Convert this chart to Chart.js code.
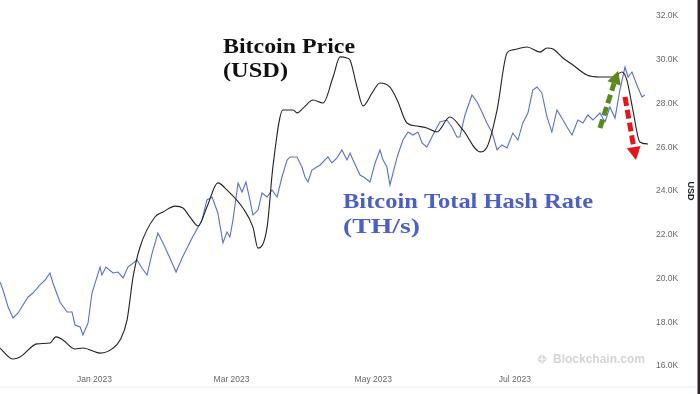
<!DOCTYPE html>
<html>
<head>
<meta charset="utf-8">
<script src="https://cdn.jsdelivr.net/npm/chart.js@4.4.0/dist/chart.umd.min.js"></script>
<style>
  html, body { margin: 0; padding: 0; background: #ffffff; }
  #wrap { width: 700px; height: 394px; position: relative; }
</style>
</head>
<body>
<div id="wrap"><canvas id="c" width="700" height="394"></canvas></div>
<script>
// ---- Data (x = days since 1 Jan 2023) ----
const tickDays   = [0, 59, 120, 181];
const tickLabels = ["Jan 2023", "Mar 2023", "May 2023", "Jul 2023"];

const priceDays = [-40.7,-35.1,-32.1,-24.8,-19.2,-16.6,-13.6,-8.4,-5.0,2.4,
  8.0,11.0,14.0,16.6,19.6,26.0,29.5,34.7,38.1,41.1,
  44.6,48.4,53.1,57.0,63.9,68.2,70.4,74.3,76.8,81.1,
  85.5,87.2,89.8,94.1,98.4,102.7,105.7,108.7,110.0,113.0,
  115.6,119.5,122.9,127.2,130.3,134.5,138.8,143.1,147.4,153.0,
  158.6,166.0,169.0,173.3,177.6,180.1,186.2,191.8,194.8,197.4,
  201.7,206.0,212.0,217.6,223.2,227.1,229.2,231.8,234.8,238.3];
const priceUSD = [16820,16320,16410,17010,17050,17330,17190,16780,16820,16590,
  16820,17190,18100,20070,21440,22810,23040,23310,23220,22810,
  22400,23270,24370,24050,23220,22350,21390,22350,25100,27700,
  27700,27570,27790,28160,28020,29210,30130,30080,29990,28750,
  27890,28480,28940,28750,28160,27110,26970,26880,26700,27380,
  26790,25790,26010,27700,30310,30450,30580,30350,30540,30490,
  30080,29760,29300,29210,29210,29440,29070,27700,26240,26150];

const hashDays = [-40.7,-39.4,-37.2,-35.1,-32.9,-30.8,-28.6,-26.5,-23.5,-21.3,
  -19.2,-17.9,-14.9,-11.8,-9.7,-8.4,-6.2,-5.0,-2.8,-1.1,
  2.4,3.2,4.9,8.0,10.1,12.3,14.4,18.3,20.4,22.6,
  24.8,27.3,30.3,33.4,35.1,37.7,42.0,46.3,48.4,50.6,
  53.1,55.3,57.0,58.3,59.6,61.8,63.5,65.2,66.9,68.2,
  70.4,72.1,74.3,76.4,78.6,80.7,82.9,84.2,87.2,89.3,
  90.6,91.9,93.6,97.1,100.5,102.2,104.4,106.5,108.7,110.0,
  111.3,114.3,116.5,118.6,120.8,122.9,124.2,125.9,127.2,130.3,
  132.8,135.0,137.1,139.3,141.0,143.1,145.7,148.7,151.7,153.9,
  156.0,157.3,159.5,162.5,164.7,166.8,168.9,171.1,173.3,175.4,
  177.6,180.1,182.3,184.4,186.6,188.7,190.5,192.6,194.8,196.9,
  199.1,201.2,203.4,205.6,208.1,210.3,212.4,214.6,217.6,219.8,
  221.9,224.1,226.2,228.4,229.7,231.4,233.5,235.7,237.0];
// hash rate, EH/s (millions of TH/s)
const hashRate = [236.8,229.5,213.9,203.9,208.5,215.8,223.1,226.7,234.1,238.6,
  245.0,235.9,218.5,209.4,209.4,197.5,195.7,188.3,199.3,226.7,
  250.5,243.2,250.5,245.0,245.9,240.5,250.5,256.9,249.6,243.2,
  263.3,281.6,268.8,254.2,245.9,258.7,277.0,293.5,311.8,314.5,
  299.9,272.5,282.5,277.9,293.5,327.3,319.1,328.2,311.8,298.1,
  302.6,318.2,314.5,320.9,314.5,332.8,348.3,351.1,351.1,341.9,
  332.8,328.2,339.2,343.8,351.1,345.6,350.2,357.5,348.3,354.7,
  348.3,334.6,331.9,328.2,345.6,357.5,348.3,341.9,325.5,351.1,
  366.6,373.9,371.2,373.9,363.9,360.2,371.2,383.1,384.9,378.5,
  369.4,369.4,389.5,407.8,401.4,392.2,382.2,373.9,357.5,362.1,
  359.3,373.0,366.6,382.2,391.3,412.3,415.1,409.6,387.7,373.9,
  394.1,386.7,378.5,371.2,384.9,382.2,389.5,384.9,391.3,383.1,
  396.8,386.7,412.3,433.4,424.2,428.8,416.9,406.0,407.8];

// annotation arrows anchored in (day, USD)
const arrowUp   = { from: [217.6, 26880], to: [225.4, 29490] };
const arrowDown = { from: [228.4, 28300], to: [233.1, 25420] };

// ---- helpers ----
function drawArrow(ctx, x0, y0, x1, y1, color) {
  const dx = x1 - x0, dy = y1 - y0, len = Math.hypot(dx, dy);
  const ux = dx / len, uy = dy / len;
  const headLen = 13, headHalf = 7;
  const bx = x1 - ux * headLen, by = y1 - uy * headLen;
  ctx.save();
  ctx.strokeStyle = color; ctx.fillStyle = color;
  ctx.lineWidth = 5; ctx.lineCap = 'butt';
  ctx.setLineDash([9, 4]);
  ctx.beginPath(); ctx.moveTo(x0, y0); ctx.lineTo(bx, by); ctx.stroke();
  ctx.setLineDash([]);
  ctx.beginPath();
  ctx.moveTo(x1, y1);
  ctx.lineTo(bx - uy * headHalf, by + ux * headHalf);
  ctx.lineTo(bx + uy * headHalf, by - ux * headHalf);
  ctx.closePath(); ctx.fill();
  ctx.restore();
}
function drawStretched(ctx, str, x, baseline, font, color, targetW) {
  ctx.save();
  ctx.font = font;
  const w = ctx.measureText(str).width;
  ctx.translate(x, baseline);
  ctx.scale(targetW / w, 1);
  ctx.fillStyle = color;
  ctx.textBaseline = 'alphabetic';
  ctx.textAlign = 'left';
  ctx.fillText(str, 0, 0);
  ctx.restore();
}

const annotPlugin = {
  id: 'annot',
  beforeDatasetsDraw(chart) {
    const ctx = chart.ctx;
    // watermark
    ctx.save();
    ctx.fillStyle = '#d4d4d4';
    const cx = 542, cy = 359, s = 4.6;
    ctx.beginPath();
    ctx.moveTo(cx, cy - s - 0.6); ctx.lineTo(cx + s + 0.6, cy); ctx.lineTo(cx, cy + s + 0.6); ctx.lineTo(cx - s - 0.6, cy); ctx.closePath();
    ctx.fill();
    ctx.strokeStyle = '#ffffff'; ctx.lineWidth = 1.2;
    ctx.beginPath(); ctx.moveTo(cx - s, cy); ctx.lineTo(cx + s, cy); ctx.moveTo(cx, cy - s); ctx.lineTo(cx, cy + s); ctx.stroke();
    ctx.font = 'bold 12px "Liberation Sans", Arial, sans-serif';
    ctx.fillStyle = '#d4d4d4';
    ctx.textBaseline = 'middle';
    ctx.fillText('Blockchain.com', 553, 359.5);
    ctx.restore();
  },
  afterDatasetsDraw(chart) {
    const ctx = chart.ctx, xs = chart.scales.x, ys = chart.scales.y;
    drawArrow(ctx, xs.getPixelForValue(arrowUp.from[0]), ys.getPixelForValue(arrowUp.from[1]),
                   xs.getPixelForValue(arrowUp.to[0]),   ys.getPixelForValue(arrowUp.to[1]), '#5a8a1a');
    drawArrow(ctx, xs.getPixelForValue(arrowDown.from[0]), ys.getPixelForValue(arrowDown.from[1]),
                   xs.getPixelForValue(arrowDown.to[0]),   ys.getPixelForValue(arrowDown.to[1]), '#e8141c');
    const serif = '"Liberation Serif", "Times New Roman", serif';
    drawStretched(ctx, 'Bitcoin Price', 223, 53, 'bold 21px ' + serif, '#111111', 132);
    drawStretched(ctx, '(USD)', 223, 77, 'bold 21px ' + serif, '#111111', 65);
    drawStretched(ctx, 'Bitcoin Total Hash Rate', 343, 208, 'bold 22px ' + serif, '#4b5fc6', 250);
    drawStretched(ctx, '(TH/s)', 343, 233, 'bold 22px ' + serif, '#4b5fc6', 77);
  },
  afterDraw(chart) {
    const ctx = chart.ctx;
    ctx.save();
    ctx.fillStyle = '#ececec';
    ctx.fillRect(0, 386.5, 697, 1);
    ctx.fillStyle = '#2e2233';
    ctx.fillRect(697.5, 0, 2.5, 394);
    ctx.restore();
  }
};

new Chart(document.getElementById('c'), {
  type: 'line',
  data: {
    datasets: [
      {
        label: 'Bitcoin Price (USD)',
        data: priceDays.map((d, i) => ({ x: d, y: priceUSD[i] })),
        yAxisID: 'y',
        borderColor: '#222222',
        borderWidth: 1.1,
        pointRadius: 0,
        cubicInterpolationMode: 'monotone',
        fill: false
      },
      {
        label: 'Bitcoin Total Hash Rate (TH/s)',
        data: hashDays.map((d, i) => ({ x: d, y: hashRate[i] })),
        yAxisID: 'yh',
        borderColor: '#5a6ed2',
        borderWidth: 1.1,
        pointRadius: 0,
        tension: 0,
        fill: false
      }
    ]
  },
  options: {
    responsive: false,
    animation: false,
    layout: { padding: { top: 16, left: 0, right: 0, bottom: 0 } },
    plugins: { legend: { display: false }, tooltip: { enabled: false } },
    scales: {
      x: {
        type: 'linear',
        min: -40.7,
        max: 238.3,
        grid: { display: false, drawTicks: false },
        border: { display: false },
        afterBuildTicks(scale) { scale.ticks = tickDays.map(v => ({ value: v })); },
        afterFit(scale) { scale.height = 28; },
        ticks: {
          autoSkip: false, maxRotation: 0, padding: 9,
          color: '#666666',
          font: { family: '"Liberation Sans", Arial, sans-serif', size: 8.5 },
          callback: (v, i) => tickLabels[i]
        }
      },
      y: {
        position: 'right',
        min: 16000,
        max: 32000,
        grid: { display: false, drawTicks: false },
        border: { display: false },
        afterFit(scale) { scale.width = 52; },
        ticks: {
          stepSize: 2000, padding: 8,
          color: '#666666',
          font: { family: '"Liberation Sans", Arial, sans-serif', size: 8.5 },
          callback: v => (v / 1000).toFixed(1) + 'K'
        },
        title: {
          display: true, text: 'USD', color: '#222222',
          font: { family: '"Liberation Sans", Arial, sans-serif', size: 9, weight: 'bold' }
        }
      },
      yh: {
        display: false,
        min: 160,
        max: 480
      }
    }
  },
  plugins: [annotPlugin]
});
</script>
</body>
</html>
